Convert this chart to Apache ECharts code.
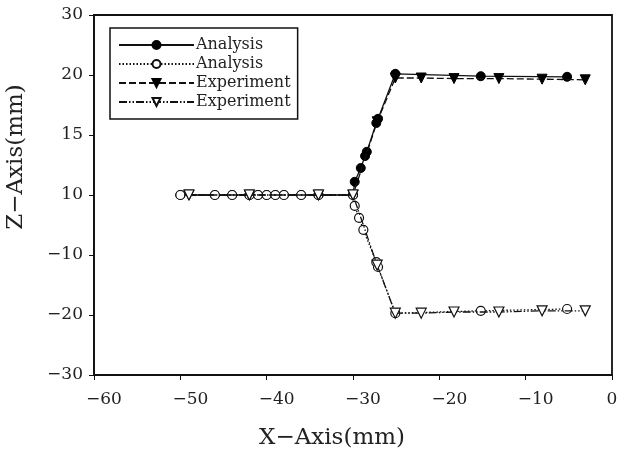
<!DOCTYPE html>
<html>
<head>
<meta charset="utf-8">
<script src="https://cdn.jsdelivr.net/npm/echarts@6/dist/echarts.min.js"></script>
<style>
  html, body { margin: 0; padding: 0; background: #fff; }
  #chart { width: 620px; height: 450px; }
</style>
</head>
<body>
<div id="chart"></div>
<script>
// y tick labels as printed on the original figure (axis is not linear in its labels)
var yTickLabels = ['−30', '−20', '−10', '10', '15', '20', '30']

// values in plot coordinates [x, z]
var analysisSolid = [
  [-50, 0], [-46, 0], [-44, 0], [-42, 0], [-41, 0], [-40, 0], [-39, 0], [-38, 0], [-36, 0], [-34, 0], [-30, 0],
  [-29.8, 2.2], [-29.1, 4.5], [-28.6, 6.5], [-28.4, 7.2], [-27.3, 12], [-27.1, 12.7],
  [-25.1, 20.2], [-15.2, 19.8], [-5.2, 19.7]
]
var analysisDotted = [
  [-50, 0], [-46, 0], [-44, 0], [-42, 0], [-41, 0], [-40, 0], [-39, 0], [-38, 0], [-36, 0], [-34, 0], [-30, 0],
  [-29.8, -1.8], [-29.3, -3.8], [-28.8, -5.8], [-27.3, -11.2], [-27.1, -12],
  [-25.1, -19.7], [-15.2, -19.3], [-5.2, -19.0]
]
var experimentDashed = [
  [-49, 0], [-42, 0], [-34, 0], [-30, 0], [-27.2, 12.2],
  [-25.1, 19.5], [-22.1, 19.5], [-18.3, 19.4], [-13.1, 19.4], [-8.1, 19.3], [-3.1, 19.2]
]
var experimentDashDot = [
  [-49, 0], [-42, 0], [-34, 0], [-30, 0], [-27.2, -11.7],
  [-25.1, -19.7], [-22.1, -19.7], [-18.3, -19.5], [-13.1, -19.5], [-8.1, -19.3], [-3.1, -19.3]
]

var font = '"DejaVu Serif", "Liberation Serif", serif'
var textColor = '#222'
var chart = echarts.init(document.getElementById('chart'))

chart.setOption({
  backgroundColor: '#fff',
  animation: false,
  grid: {
    left: 94,
    right: 8,
    top: 15,
    bottom: 75,
    outerBoundsMode: 'none',
    containLabel: false,
    show: true,
    borderColor: '#111',
    borderWidth: 1.8
  },
  legend: {
    orient: 'vertical',
    left: 110,
    top: 28,
    itemWidth: 75,
    itemHeight: 10,
    itemGap: 3,
    padding: [9, 2, 9, 8],
    borderColor: '#111',
    borderWidth: 1.5,
    backgroundColor: '#fff',
    textStyle: { fontFamily: font, fontSize: 16, lineHeight: 14, color: textColor, padding: [0, 0, 0, -3] },
    data: ['Analysis', 'Analysis ', 'Experiment', 'Experiment ']
  },
  xAxis: {
    type: 'value',
    min: -60,
    max: 0,
    interval: 10,
    name: 'X−Axis(mm)',
    nameLocation: 'middle',
    nameGap: 52,
    nameTextStyle: { fontFamily: font, fontSize: 23, color: textColor, padding: [0, 42, 0, 0] },
    axisLine: { onZero: false, lineStyle: { color: '#111', width: 1.8 } },
    axisTick: { length: 5, lineStyle: { color: '#111' } },
    axisLabel: {
      fontFamily: font, fontSize: 17, color: textColor, margin: 16,
      formatter: function (v) { return v < 0 ? '{n|−' + (-v) + '}' : String(v) },
      rich: { n: { fontFamily: font, fontSize: 17, color: textColor, padding: [0, 0, 0, 20] } }
    },
    splitLine: { show: false }
  },
  yAxis: {
    type: 'value',
    min: -30,
    max: 30,
    interval: 10,
    name: 'Z−Axis(mm)',
    nameLocation: 'middle',
    nameGap: 66,
    nameTextStyle: { fontFamily: font, fontSize: 23, color: textColor, padding: [0, 0, 0, 76] },
    axisLine: { onZero: false, lineStyle: { color: '#111', width: 1.8 } },
    axisTick: { length: 5, lineStyle: { color: '#111' } },
    axisLabel: {
      fontFamily: font, fontSize: 17, color: textColor, margin: 11,
      formatter: function (v) { return yTickLabels[Math.round((v + 30) / 10)] }
    },
    splitLine: { show: false }
  },
  series: [
    {
      name: 'Analysis',
      type: 'line',
      data: analysisSolid,
      symbol: 'circle',
      symbolSize: 9,
      itemStyle: { color: '#000', borderColor: '#000', borderWidth: 1 },
      lineStyle: { color: '#111', width: 1.3, type: 'solid' },
      z: 2
    },
    {
      name: 'Analysis ',
      type: 'line',
      data: analysisDotted,
      symbol: 'circle',
      symbolSize: 9,
      itemStyle: { color: '#fff', borderColor: '#111', borderWidth: 1.2 },
      lineStyle: { color: '#111', width: 1.3, type: [1.5, 2] },
      z: 3
    },
    {
      name: 'Experiment',
      type: 'line',
      data: experimentDashed,
      symbol: 'triangle',
      symbolRotate: 180,
      symbolSize: 10,
      itemStyle: { color: '#000', borderColor: '#000', borderWidth: 1 },
      lineStyle: { color: '#111', width: 1.3, type: [7, 3] },
      z: 4
    },
    {
      name: 'Experiment ',
      type: 'line',
      data: experimentDashDot,
      symbol: 'triangle',
      symbolRotate: 180,
      symbolSize: 10,
      itemStyle: { color: '#fff', borderColor: '#111', borderWidth: 1.2 },
      lineStyle: { color: '#111', width: 1.3, type: [8, 2, 1.5, 2, 1.5, 2] },
      z: 5
    }
  ]
})
</script>
</body>
</html>
